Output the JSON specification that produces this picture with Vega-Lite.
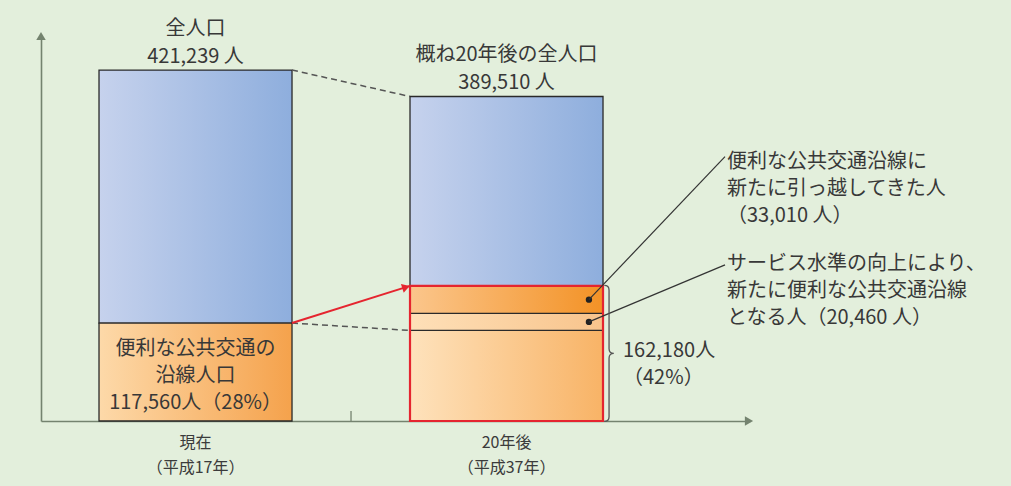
{
  "$schema": "https://vega.github.io/schema/vega-lite/v6.json",
  "width": 709,
  "height": 386,
  "autosize": {"type": "none"},
  "padding": {"left": 41, "top": 35, "right": 261, "bottom": 65},
  "background": "#e3efdc",
  "config": {
    "view": {"stroke": null},
    "font": "Noto Sans CJK JP",
    "text": {"font": "Noto Sans CJK JP", "fontSize": 20, "color": "#383838"}
  },
  "datasets": {
    "bars": [
      {"cat": "現在", "seg": "now", "lo": 0, "hi": 117560},
      {"cat": "現在", "seg": "blue", "lo": 117560, "hi": 421239},
      {"cat": "20年後", "seg": "base", "lo": 0, "hi": 108710},
      {"cat": "20年後", "seg": "service", "lo": 108710, "hi": 129170},
      {"cat": "20年後", "seg": "moved", "lo": 129170, "hi": 162180},
      {"cat": "20年後", "seg": "blue", "lo": 162180, "hi": 389510}
    ],
    "links": [
      {"from": "現在", "to": "20年後", "a": 421239, "b": 389510, "kind": "dash"},
      {"from": "現在", "to": "20年後", "a": 117560, "b": 108710, "kind": "dash"},
      {"from": "現在", "to": "20年後", "a": 117560, "b": 162180, "kind": "arrow"}
    ],
    "notes": [
      {"cat": "20年後", "id": "moved", "mid": 145675, "text": ["便利な公共交通沿線に", "新たに引っ越してきた人", "（33,010 人）"]},
      {"cat": "20年後", "id": "service", "mid": 118940, "text": ["サービス水準の向上により、", "新たに便利な公共交通沿線", "となる人（20,460 人）"]}
    ],
    "labels": [
      {"cat": "現在", "kind": "total", "v": 421239, "text": ["全人口", "421,239 人"]},
      {"cat": "20年後", "kind": "total", "v": 389510, "text": ["概ね20年後の全人口", "389,510 人"]},
      {"cat": "現在", "kind": "inner", "v": 117560, "text": ["便利な公共交通の", "沿線人口", "117,560人（28%）"]}
    ],
    "group": [
      {"cat": "20年後", "lo": 0, "hi": 162180, "mid": 81090, "text": ["162,180人", "（42%）"]}
    ]
  },
  "layer": [
    {
      "data": {"name": "bars"},
      "transform": [{"filter": "datum.seg === 'blue'"}],
      "mark": {"type": "bar", "stroke": "#2a2a2a", "strokeWidth": 1.3,
        "fill": {"gradient": "linear", "stops": [{"offset": 0, "color": "#c6d2ed"}, {"offset": 1, "color": "#8eaedd"}]}},
      "encoding": {
        "x": {"field": "cat", "type": "nominal", "sort": ["現在", "20年後"],
          "scale": {"type": "band", "domain": ["現在", "20年後"], "paddingInner": 0.3794, "paddingOuter": 0.3296, "align": 0.283},
          "axis": {"title": null, "domain": true, "domainColor": "#74836f", "domainWidth": 1.6, "ticks": false, "grid": false,
            "labelExpr": "datum.value === '現在' ? ['現在', '（平成17年）'] : ['20年後', '（平成37年）']",
            "labelFontSize": 16, "labelColor": "#3b3b3b", "labelPadding": 13, "labelLineHeight": 25, "labelAngle": 0,
            "labelFont": "Noto Sans CJK JP", "labelLimit": 0, "labelOverlap": false}},
        "y": {"field": "lo", "type": "quantitative",
          "scale": {"domain": [0, 463300], "nice": false, "zero": true},
          "axis": {"title": null, "domain": true, "domainColor": "#74836f", "domainWidth": 1.6, "ticks": false, "labels": false, "grid": false}},
        "y2": {"field": "hi"}
      }
    },
    {
      "data": {"name": "bars"},
      "transform": [{"filter": "datum.seg === 'now'"}],
      "mark": {"type": "bar", "stroke": "#2a2a2a", "strokeWidth": 1.3,
        "fill": {"gradient": "linear", "stops": [{"offset": 0, "color": "#fdd9a9"}, {"offset": 1, "color": "#f5a24c"}]}},
      "encoding": {
        "x": {"field": "cat", "type": "nominal", "sort": ["現在", "20年後"]},
        "y": {"field": "lo", "type": "quantitative"},
        "y2": {"field": "hi"}
      }
    },
    {
      "data": {"name": "bars"},
      "transform": [{"filter": "datum.seg === 'base'"}],
      "mark": {"type": "bar", "stroke": "#2a2a2a", "strokeWidth": 1.3,
        "fill": {"gradient": "linear", "stops": [{"offset": 0, "color": "#fee2bc"}, {"offset": 1, "color": "#f8b366"}]}},
      "encoding": {
        "x": {"field": "cat", "type": "nominal", "sort": ["現在", "20年後"]},
        "y": {"field": "lo", "type": "quantitative"},
        "y2": {"field": "hi"}
      }
    },
    {
      "data": {"name": "bars"},
      "transform": [{"filter": "datum.seg === 'service'"}],
      "mark": {"type": "bar", "stroke": "#2a2a2a", "strokeWidth": 1.3,
        "fill": {"gradient": "linear", "stops": [{"offset": 0, "color": "#fee0b8"}, {"offset": 1, "color": "#f8c48c"}]}},
      "encoding": {
        "x": {"field": "cat", "type": "nominal", "sort": ["現在", "20年後"]},
        "y": {"field": "lo", "type": "quantitative"},
        "y2": {"field": "hi"}
      }
    },
    {
      "data": {"name": "bars"},
      "transform": [{"filter": "datum.seg === 'moved'"}],
      "mark": {"type": "bar", "stroke": "#2a2a2a", "strokeWidth": 1.3,
        "fill": {"gradient": "linear", "stops": [{"offset": 0, "color": "#fbc68c"}, {"offset": 1, "color": "#f39226"}]}},
      "encoding": {
        "x": {"field": "cat", "type": "nominal", "sort": ["現在", "20年後"]},
        "y": {"field": "lo", "type": "quantitative"},
        "y2": {"field": "hi"}
      }
    },
    {
      "data": {"name": "group"},
      "mark": {"type": "bar", "fill": "transparent", "stroke": "#e5252f", "strokeWidth": 2.2},
      "encoding": {
        "x": {"field": "cat", "type": "nominal", "sort": ["現在", "20年後"]},
        "y": {"field": "lo", "type": "quantitative"},
        "y2": {"field": "hi"}
      }
    },
    {
      "data": {"name": "links"},
      "transform": [{"filter": "datum.kind === 'dash'"}],
      "mark": {"type": "rule", "stroke": "#555555", "strokeWidth": 1.5, "strokeDash": [6, 4]},
      "encoding": {
        "x": {"field": "from", "type": "nominal", "sort": ["現在", "20年後"], "bandPosition": 1},
        "x2": {"field": "to", "bandPosition": 0},
        "y": {"field": "a", "type": "quantitative"},
        "y2": {"field": "b"}
      }
    },
    {
      "data": {"name": "links"},
      "transform": [{"filter": "datum.kind === 'arrow'"}],
      "mark": {"type": "rule", "stroke": "#e5252f", "strokeWidth": 2},
      "encoding": {
        "x": {"field": "from", "type": "nominal", "sort": ["現在", "20年後"], "bandPosition": 1},
        "x2": {"field": "to", "bandPosition": 0},
        "y": {"field": "a", "type": "quantitative"},
        "y2": {"field": "b"}
      }
    },
    {
      "data": {"name": "links"},
      "transform": [{"filter": "datum.kind === 'arrow'"}],
      "mark": {"type": "point", "shape": "triangle-right", "filled": true, "fill": "#e5252f", "strokeWidth": 0, "opacity": 1, "size": 80, "angle": -18, "xOffset": -4, "yOffset": 1.3},
      "encoding": {
        "x": {"field": "to", "type": "nominal", "sort": ["現在", "20年後"], "bandPosition": 0},
        "y": {"field": "b", "type": "quantitative"}
      }
    },
    {
      "data": {"name": "notes"},
      "mark": {"type": "point", "filled": true, "fill": "#222222", "strokeWidth": 0, "opacity": 1, "size": 40},
      "encoding": {
        "x": {"field": "cat", "type": "nominal", "sort": ["現在", "20年後"], "bandPosition": 0.927},
        "y": {"field": "mid", "type": "quantitative"}
      }
    },
    {
      "data": {"name": "notes"},
      "transform": [{"filter": "datum.id === 'moved'"}],
      "mark": {"type": "rule", "stroke": "#333333", "strokeWidth": 1.2, "x2Offset": 122, "y2Offset": -143},
      "encoding": {
        "x": {"field": "cat", "type": "nominal", "sort": ["現在", "20年後"], "bandPosition": 0.927},
        "x2": {"field": "cat", "bandPosition": 1},
        "y": {"field": "mid", "type": "quantitative"},
        "y2": {"field": "mid"}
      }
    },
    {
      "data": {"name": "notes"},
      "transform": [{"filter": "datum.id === 'service'"}],
      "mark": {"type": "rule", "stroke": "#333333", "strokeWidth": 1.2, "x2Offset": 122, "y2Offset": -57},
      "encoding": {
        "x": {"field": "cat", "type": "nominal", "sort": ["現在", "20年後"], "bandPosition": 0.927},
        "x2": {"field": "cat", "bandPosition": 1},
        "y": {"field": "mid", "type": "quantitative"},
        "y2": {"field": "mid"}
      }
    },
    {
      "data": {"name": "notes"},
      "transform": [{"filter": "datum.id === 'moved'"}],
      "mark": {"type": "text", "align": "left", "baseline": "middle", "dx": 124, "dy": -137.6, "lineHeight": 27},
      "encoding": {
        "x": {"field": "cat", "type": "nominal", "sort": ["現在", "20年後"], "bandPosition": 1},
        "y": {"field": "mid", "type": "quantitative"},
        "text": {"field": "text"}
      }
    },
    {
      "data": {"name": "notes"},
      "transform": [{"filter": "datum.id === 'service'"}],
      "mark": {"type": "text", "align": "left", "baseline": "middle", "dx": 124, "dy": -57.9, "lineHeight": 27},
      "encoding": {
        "x": {"field": "cat", "type": "nominal", "sort": ["現在", "20年後"], "bandPosition": 1},
        "y": {"field": "mid", "type": "quantitative"},
        "text": {"field": "text"}
      }
    },
    {
      "data": {"name": "labels"},
      "transform": [{"filter": "datum.kind === 'total'"}],
      "mark": {"type": "text", "align": "center", "baseline": "middle", "dy": -41, "lineHeight": 28},
      "encoding": {
        "x": {"field": "cat", "type": "nominal", "sort": ["現在", "20年後"]},
        "y": {"field": "v", "type": "quantitative"},
        "text": {"field": "text"}
      }
    },
    {
      "data": {"name": "labels"},
      "transform": [{"filter": "datum.kind === 'inner'"}],
      "mark": {"type": "text", "align": "center", "baseline": "middle", "dy": 26, "lineHeight": 27},
      "encoding": {
        "x": {"field": "cat", "type": "nominal", "sort": ["現在", "20年後"]},
        "y": {"field": "v", "type": "quantitative"},
        "text": {"field": "text"}
      }
    },
    {
      "data": {"name": "group"},
      "mark": {"type": "point", "filled": false, "fill": null, "stroke": "#555555", "strokeWidth": 1.3, "opacity": 1, "size": 18496, "xOffset": 4,
        "shape": "M -0.04 -1 Q 0.03 -1 0.03 -0.93 L 0.03 -0.07 Q 0.03 0 0.1 0 Q 0.03 0 0.03 0.07 L 0.03 0.93 Q 0.03 1 -0.04 1"},
      "encoding": {
        "x": {"field": "cat", "type": "nominal", "sort": ["現在", "20年後"], "bandPosition": 1},
        "y": {"field": "mid", "type": "quantitative"}
      }
    },
    {
      "data": {"name": "group"},
      "mark": {"type": "text", "align": "left", "baseline": "middle", "dx": 20, "dy": -2.4, "lineHeight": 27},
      "encoding": {
        "x": {"field": "cat", "type": "nominal", "sort": ["現在", "20年後"], "bandPosition": 1},
        "y": {"field": "mid", "type": "quantitative"},
        "text": {"field": "text"}
      }
    },
    {
      "data": {"values": [{}]},
      "mark": {"type": "rule", "stroke": "#74836f", "strokeWidth": 1.3, "y2Offset": -10},
      "encoding": {
        "x": {"datum": "現在", "type": "nominal", "bandPosition": 1.3057},
        "y": {"datum": 0, "type": "quantitative"},
        "y2": {"datum": 0}
      }
    },
    {
      "data": {"values": [{}]},
      "mark": {"type": "point", "shape": "triangle-up", "filled": true, "fill": "#74836f", "strokeWidth": 0, "opacity": 1, "size": 90, "yOffset": 1},
      "encoding": {
        "x": {"value": 0},
        "y": {"value": 0}
      }
    },
    {
      "data": {"values": [{}]},
      "mark": {"type": "point", "shape": "triangle-right", "filled": true, "fill": "#74836f", "strokeWidth": 0, "opacity": 1, "size": 90, "xOffset": -1},
      "encoding": {
        "x": {"value": "width"},
        "y": {"value": "height"}
      }
    }
  ]
}
